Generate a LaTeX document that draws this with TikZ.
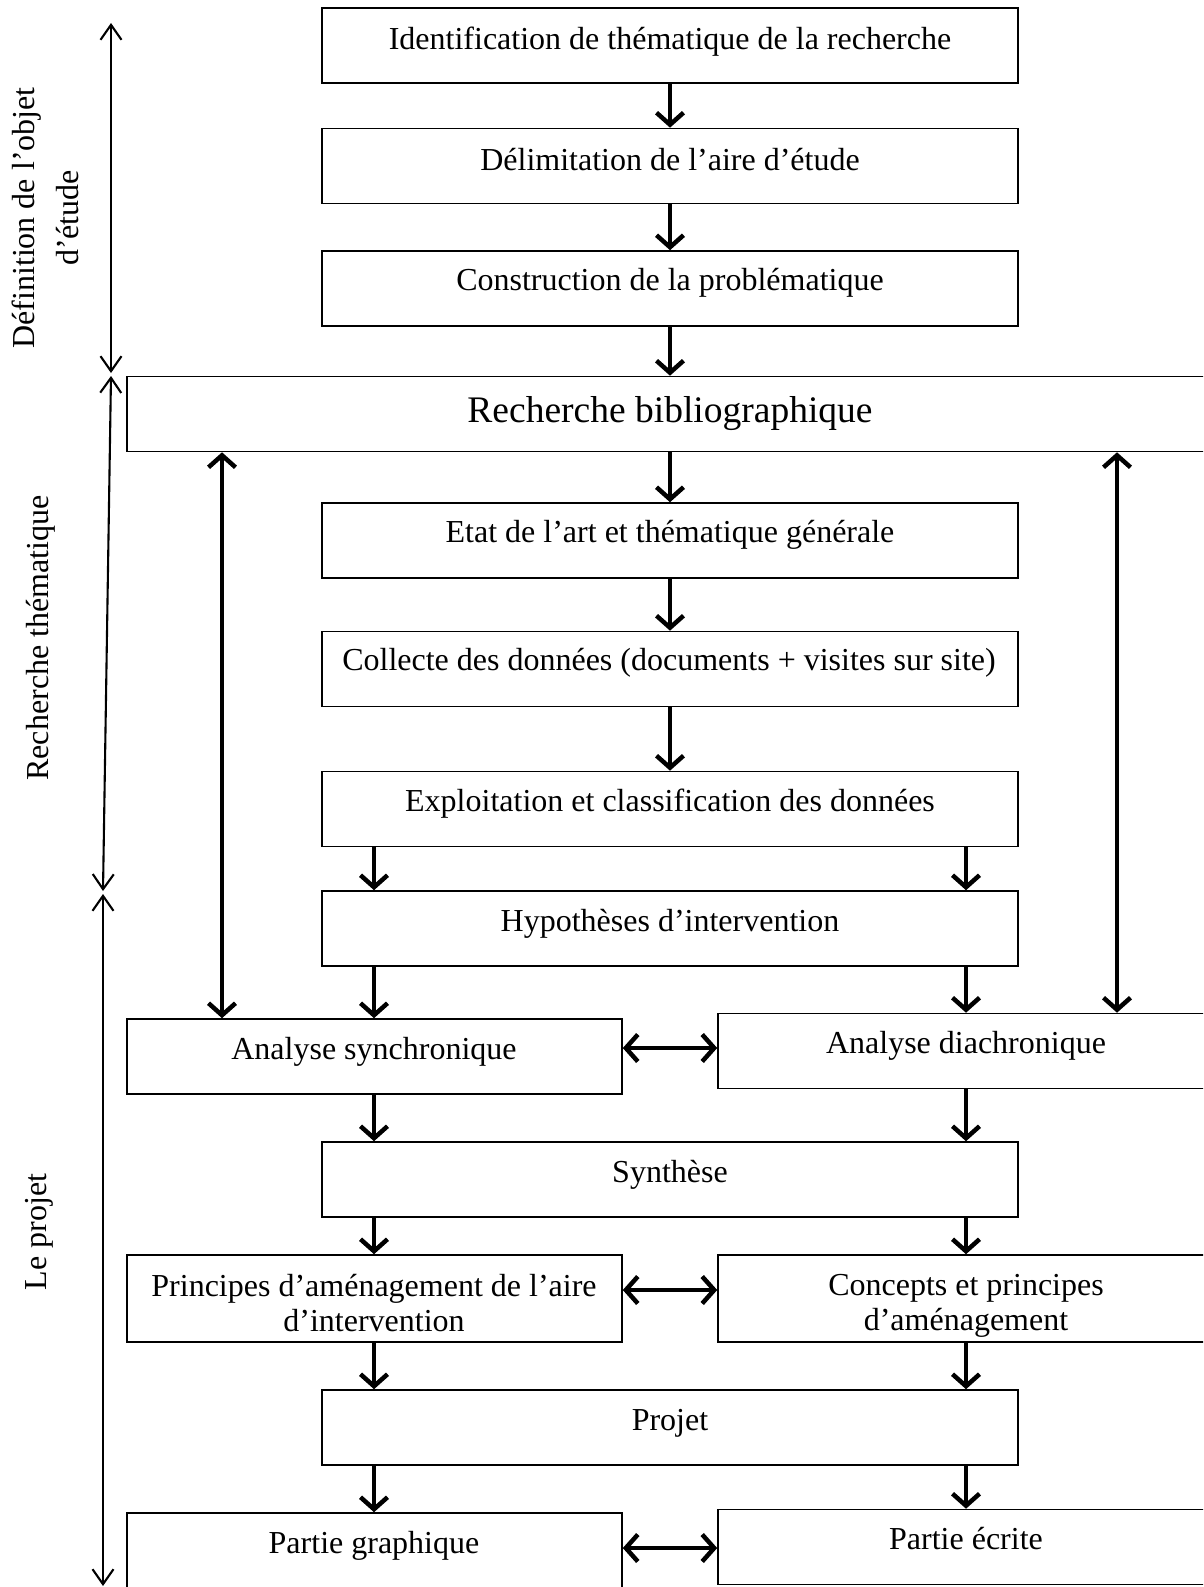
\documentclass[tikz,border=0pt]{standalone}
\usepackage{fontspec}
\setmainfont{Liberation Serif}
\usetikzlibrary{arrows.meta}
\begin{document}
\begin{tikzpicture}[x=1pt,y=-1pt,
  box/.style={draw, line width=1.6pt, minimum height=75pt, inner sep=0pt},
  cbox/.style={box, minimum width=696pt},
  lbox/.style={box, minimum width=495pt},
  rbox/.style={box, minimum width=496pt},
  txt/.style={font=\fontsize{32}{35.5}\selectfont, align=center, inner sep=0pt},
  side/.style={font=\fontsize{32}{44}\selectfont, align=center, inner sep=0pt, rotate=90},
  flow/.style={line width=4.5pt, -{Straight Barb[length=12pt,width=27pt]}},
  both/.style={line width=4.5pt, {Straight Barb[length=12pt,width=27pt]}-{Straight Barb[length=12pt,width=27pt]}},
  axis/.style={line width=2.1pt, {Straight Barb[length=15pt,width=21pt]}-{Straight Barb[length=15pt,width=21pt]}}]
\useasboundingbox (0,0) rectangle (1203,1587);
\clip (0,0) rectangle (1203,1587);
\fill[white] (0,0) rectangle (1203,1587);

% boxes
\node[cbox] (b1) at (670,45.5) {};
\node[cbox] (b2) at (670,166) {};
\node[cbox] (b3) at (670,288.5) {};
\node[box, minimum width=1086pt] (bib) at (670,414) {};
\node[cbox] (b5) at (670,540.5) {};
\node[cbox] (b6) at (670,669) {};
\node[cbox] (b7) at (670,809) {};
\node[cbox] (b8) at (670,928.5) {};
\node[lbox] (sync) at (374.5,1056.5) {};
\node[rbox] (dia) at (966,1051) {};
\node[cbox] (syn) at (670,1179.5) {};
\node[lbox, minimum height=87pt] (pri) at (374.5,1298.5) {};
\node[rbox, minimum height=87pt] (con) at (966,1298.5) {};
\node[cbox] (pro) at (670,1427.5) {};
\node[lbox] (pg) at (374.5,1550.5) {};
\node[rbox] (pe) at (966,1547) {};

% texts
\node[txt] (t1) at (670,41.5) {Identification de thématique de la recherche};
\node[txt] (t2) at (670,160) {Délimitation de l’aire d’étude};
\node[txt] (t3) at (670,283) {Construction de la problématique};
\node[txt, font=\fontsize{37.5}{40}\selectfont] (t4) at (670,414) {Recherche bibliographique};
\node[txt] (t5) at (670,535) {Etat de l’art et thématique générale};
\node[txt] (t6) at (669,663) {Collecte des données (documents + visites sur site)};
\node[txt] (t7) at (670,804) {Exploitation et classification des données};
\node[txt] (t8) at (670,924) {Hypothèses d’intervention};
\node[txt] (t9) at (374,1052) {Analyse synchronique};
\node[txt] (t10) at (966,1046) {Analyse diachronique};
\node[txt] (t11) at (670,1175) {Synthèse};
\node[txt] (t12) at (374,1303) {Principes d’aménagement de l’aire\\d’intervention};
\node[txt] (t13) at (966,1306) {Concepts et principes\\d’aménagement};
\node[txt] (t14) at (670,1423) {Projet};
\node[txt] (t15) at (374,1546) {Partie graphique};
\node[txt] (t16) at (966,1539) {Partie écrite};

% side labels
\node[side] (s1) at (45,218) {Définition de l’objet\\d’étude};
\node[side] (s2) at (41,638) {Recherche thématique};
\node[side] (s3) at (39,1232) {Le projet};

% axis
\coordinate (a0) at (111,23);
\coordinate (a1) at (111,373);
\coordinate (a2) at (111,376);
\coordinate (a3) at (103,891);
\coordinate (a4) at (103,894);
\coordinate (a5) at (103,1586);
\draw[axis] (a0) -- (a1);
\draw[axis] (a2) -- (a3);
\draw[axis] (a4) -- (a5);

% column guides
\coordinate (cl) at (374,0);
\coordinate (cr) at (966,0);
\coordinate (vl) at (222,0);
\coordinate (vr) at (1117,0);
\coordinate (h1) at (0,1048);
\coordinate (h2) at (0,1290);
\coordinate (h3) at (0,1548);

% flow arrows
\draw[flow] (b1.south) -- (b2.north);
\draw[flow] (b2.south) -- (b3.north);
\draw[flow] (b3.south) -- (bib.north);
\draw[flow] (bib.south) -- (b5.north);
\draw[flow] (b5.south) -- (b6.north);
\draw[flow] (b6.south) -- (b7.north);
\draw[flow] (b7.south -| cl) -- (b8.north -| cl);
\draw[flow] (b7.south -| cr) -- (b8.north -| cr);
\draw[flow] (b8.south -| cl) -- (sync.north -| cl);
\draw[flow] (b8.south -| cr) -- (dia.north -| cr);
\draw[flow] (sync.south -| cl) -- (syn.north -| cl);
\draw[flow] (dia.south -| cr) -- (syn.north -| cr);
\draw[flow] (syn.south -| cl) -- (pri.north -| cl);
\draw[flow] (syn.south -| cr) -- (con.north -| cr);
\draw[flow] (pri.south -| cl) -- (pro.north -| cl);
\draw[flow] (con.south -| cr) -- (pro.north -| cr);
\draw[flow] (pro.south -| cl) -- (pg.north -| cl);
\draw[flow] (pro.south -| cr) -- (pe.north -| cr);

% double arrows
\draw[both] (bib.south -| vl) -- (sync.north -| vl);
\draw[both] (bib.south -| vr) -- (dia.north -| vr);
\draw[both] (sync.east |- h1) -- (dia.west |- h1);
\draw[both] (pri.east |- h2) -- (con.west |- h2);
\draw[both] (pg.east |- h3) -- (pe.west |- h3);
\end{tikzpicture}
\end{document}
